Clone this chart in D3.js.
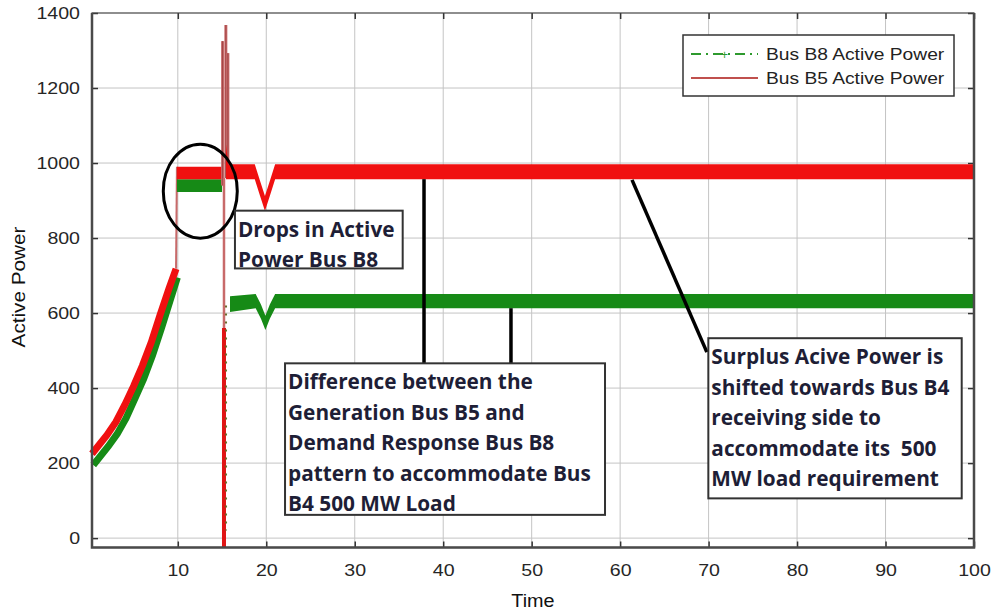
<!DOCTYPE html>
<html>
<head>
<meta charset="utf-8">
<script src="https://cdn.jsdelivr.net/npm/d3@7"></script>
<style>
  html, body { margin: 0; padding: 0; background: #fff; }
  svg { display: block; }
</style>
</head>
<body>
<div id="chart"></div>
<script>
// ramp (start-up) part, 0 .. 10 s
const rampT = [0.3, 2, 3, 4, 5, 6, 7, 8, 9, 9.8];
const b5Ramp = [225, 275, 310, 355, 405, 460, 522, 595, 665, 718];
const b8Ramp = [195, 245, 278, 320, 372, 425, 488, 560, 635, 695];

// plateau before the disturbance (band = lower / upper envelope)
const preT = [9.9, 15.0];
const b5PreLo = [957, 957];
const b5PreHi = [990, 990];
const b8PreLo = [923, 923];
const b8PreHi = [957, 957];

// after the disturbance, with the dip near t = 20
const b5PostT = [15.45, 15.7, 18.7, 19.3, 19.85, 20.4, 21.0, 100];
const b5PostLo = [957, 957, 957, 912, 872, 912, 957, 957];
const b5PostHi = [1050, 997, 997, 952, 912, 952, 997, 997];
const b8PostT = [15.9, 18.8, 19.4, 19.9, 20.4, 21.0, 100];
const b8PostLo = [603, 613, 585, 555, 585, 613, 613];
const b8PostHi = [645, 651, 623, 593, 623, 651, 651];

// transients around t = 15
const spikeT = [15.06, 15.43, 15.66];
const spikeTop = [1325, 1368, 1293];
const spikeBase = [940, 960, 960];
const dropT = 15.22;
const dropTop = 960;
const dropMid = 560;
const dropBottom = -25;
const b8DropT = 15.45;
const b8DropTop = 620;
const b8DropBottom = 20;

const xTicks = [10, 20, 30, 40, 50, 60, 70, 80, 90, 100];
const yTicks = [0, 200, 400, 600, 800, 1000, 1200, 1400];
const seriesNames = ['Bus B8 Active Power', 'Bus B5 Active Power'];

const W = 992, H = 613;
const margin = { top: 13, right: 18, bottom: 65.5, left: 92 };
const width = W - margin.left - margin.right;
const height = H - margin.top - margin.bottom;

const RED = '#f01010';
const GREEN = '#168a16';
const PINK = '#c86a6a';
const axisFont = '"Liberation Sans", Arial, sans-serif';

// the source image is a little stretched sideways
function stretch(sel, k) {
  sel.each(function () {
    const w = this.getComputedTextLength();
    d3.select(this).attr('textLength', w * k).attr('lengthAdjust', 'spacingAndGlyphs');
  });
}

const svg = d3.select('#chart').append('svg')
  .attr('width', W).attr('height', H)
  .attr('font-family', axisFont);

const g = svg.append('g').attr('transform', `translate(${margin.left},${margin.top})`);

const x = d3.scaleLinear().domain([0.3, 100]).range([0, width]);
const y = d3.scaleLinear().domain([-25, 1400]).range([height, 0]);

// grid
g.append('g').selectAll('line').data(xTicks.filter(d => d < 100)).join('line')
  .attr('x1', d => x(d)).attr('x2', d => x(d)).attr('y1', 0).attr('y2', height)
  .attr('stroke', '#c4c4c4').attr('stroke-width', 1);
g.append('g').selectAll('line').data(yTicks.filter(d => d < 1400)).join('line')
  .attr('y1', d => y(d)).attr('y2', d => y(d)).attr('x1', 0).attr('x2', width)
  .attr('stroke', '#c4c4c4').attr('stroke-width', 1);

// axes (ticks pointing inwards, MATLAB style)
const xAxis = g.append('g').attr('transform', `translate(0,${height})`)
  .call(d3.axisBottom(x).tickValues(xTicks).tickSize(-6).tickPadding(16).tickFormat(d3.format('d')));
const yAxis = g.append('g')
  .call(d3.axisLeft(y).tickValues(yTicks).tickSize(-6).tickPadding(12).tickFormat(d3.format('d')));
g.append('g').attr('transform', `translate(0,0)`)
  .call(d3.axisTop(x).tickValues(xTicks).tickSize(-6).tickFormat(''));
g.append('g').attr('transform', `translate(${width},0)`)
  .call(d3.axisRight(y).tickValues(yTicks).tickSize(-6).tickFormat(''));
g.selectAll('.domain').remove();
g.selectAll('.tick line').attr('stroke', '#333').attr('stroke-width', 1.5);
[xAxis, yAxis].forEach(a => {
  const t = a.selectAll('text')
    .attr('font-size', 17).attr('fill', '#262626')
    .attr('font-family', axisFont);
  stretch(t, 1.15);
});

// series
const line = d3.line().x(d => x(d[0])).y(d => y(d[1]));
const area = d3.area().x(d => x(d[0])).y0(d => y(d[1])).y1(d => y(d[2]));
const plot = g.append('g');

// ramps
plot.append('path').datum(rampT.map((t, i) => [t + 0.15, b8Ramp[i]]))
  .attr('d', line).attr('fill', 'none').attr('stroke', GREEN).attr('stroke-width', 7);
plot.append('path').datum(rampT.map((t, i) => [t, b5Ramp[i]]))
  .attr('d', line).attr('fill', 'none').attr('stroke', RED).attr('stroke-width', 7);
plot.append('path').datum([[rampT[rampT.length - 1], b5Ramp[b5Ramp.length - 1]], [preT[0], b5PreHi[0]]])
  .attr('d', line).attr('fill', 'none').attr('stroke', PINK).attr('stroke-width', 2);

// plateaus
plot.append('path').datum(preT.map((t, i) => [t, b8PreLo[i], b8PreHi[i]]))
  .attr('d', area).attr('fill', GREEN);
plot.append('path').datum(preT.map((t, i) => [t, b5PreLo[i], b5PreHi[i]]))
  .attr('d', area).attr('fill', RED);

// transients
spikeT.forEach((t, i) => {
  plot.append('path').datum([[t, spikeBase[i]], [t, spikeTop[i]]])
    .attr('d', line).attr('stroke', PINK).attr('stroke-width', 3).attr('fill', 'none');
  plot.append('path').datum([[t, spikeBase[i]], [t, spikeTop[i]]])
    .attr('d', line).attr('stroke', '#a04545').attr('stroke-width', 1).attr('fill', 'none');
});
plot.append('path').datum([[dropT, dropTop], [dropT, dropMid]])
  .attr('d', line).attr('stroke', PINK).attr('stroke-width', 2.5).attr('fill', 'none');
plot.append('path').datum([[dropT, dropMid], [dropT, dropBottom]])
  .attr('d', line).attr('stroke', '#e01515').attr('stroke-width', 4).attr('fill', 'none');
plot.append('path').datum([[b8DropT, b8DropTop], [b8DropT, b8DropBottom]])
  .attr('d', line).attr('stroke', '#6b6a2a').attr('stroke-width', 2)
  .attr('stroke-dasharray', '2,6').attr('fill', 'none');

// post-disturbance bands
plot.append('path').datum(b8PostT.map((t, i) => [t, b8PostLo[i], b8PostHi[i]]))
  .attr('d', area).attr('fill', GREEN);
plot.append('path').datum(b5PostT.map((t, i) => [t, b5PostLo[i], b5PostHi[i]]))
  .attr('d', area).attr('fill', RED);

// frame
g.append('rect').attr('x', 0).attr('y', 0).attr('width', width).attr('height', height)
  .attr('fill', 'none').attr('stroke', '#444').attr('stroke-width', 1.2);
g.append('path')
  .attr('d', `M0,0V${height}H${width}V0`)
  .attr('fill', 'none').attr('stroke', '#4a4a4a').attr('stroke-width', 2.5);

// axis titles
stretch(svg.append('text').attr('x', 533).attr('y', 607).attr('text-anchor', 'middle')
  .attr('font-size', 18).attr('fill', '#111').text('Time'), 1.1);
stretch(svg.append('text').attr('transform', 'translate(25,287) rotate(-90)')
  .attr('text-anchor', 'middle').attr('font-size', 18).attr('fill', '#111').text('Active Power'), 1.15);

// legend
const leg = svg.append('g').attr('transform', 'translate(683,35)');
leg.append('rect').attr('width', 271).attr('height', 61)
  .attr('fill', '#fff').attr('stroke', '#333').attr('stroke-width', 1.5);
leg.append('line').attr('x1', 8).attr('x2', 75).attr('y1', 19).attr('y2', 19)
  .attr('stroke', '#2e9a2e').attr('stroke-width', 2).attr('stroke-dasharray', '10,5,2,5');
leg.append('text').attr('x', 41.5).attr('y', 23.5).attr('text-anchor', 'middle')
  .attr('font-size', 12).attr('fill', '#2e9a2e').text('+');
leg.append('line').attr('x1', 8).attr('x2', 75).attr('y1', 43).attr('y2', 43)
  .attr('stroke', '#c0504d').attr('stroke-width', 2);
stretch(leg.selectAll('text.lbl').data(seriesNames).join('text').attr('class', 'lbl')
  .attr('x', 83).attr('y', (d, i) => 25 + i * 24)
  .attr('font-size', 16).attr('fill', '#222').text(d => d), 1.2);

// annotations
const annFont = '"Open Sans", Lato, sans-serif';
g.append('ellipse')
  .attr('cx', x(12.54)).attr('cy', y(925))
  .attr('rx', 37).attr('ry', 47)
  .attr('fill', 'none').attr('stroke', '#000').attr('stroke-width', 3);

const leaders = [
  [[37.83, 957], [37.83, 466]],
  [[47.66, 613], [47.66, 466]],
  [[61.34, 955], [69.8, 496]]
];
leaders.forEach(l => g.append('path').datum(l).attr('d', line)
  .attr('fill', 'none').attr('stroke', '#000').attr('stroke-width', 3.5));

const boxes = [
  { t0: 16.46, t1: 35.42, v0: 873, v1: 719,
    lines: ['Drops in Active', 'Power Bus B8'] },
  { t0: 22.12, t1: 58.29, v0: 466, v1: 62,
    lines: ['Difference between the', 'Generation Bus B5 and', 'Demand Response Bus B8',
            'pattern to accommodate Bus', 'B4 500 MW Load'] },
  { t0: 69.97, t1: 98.61, v0: 533, v1: 106,
    lines: ['Surplus Acive Power is', 'shifted towards Bus B4', 'receiving side to',
            'accommodate its  500', 'MW load requirement'] }
];
boxes.forEach(b => {
  const bx = x(b.t0), by = y(b.v0);
  g.append('rect').attr('x', bx).attr('y', by)
    .attr('width', x(b.t1) - bx).attr('height', y(b.v1) - by)
    .attr('fill', '#fff').attr('stroke', '#333').attr('stroke-width', 2);
  g.append('text').attr('font-family', annFont).attr('font-weight', 'bold')
    .attr('font-size', 20.8).attr('fill', '#1e1e36').attr('xml:space', 'preserve')
    .selectAll('tspan').data(b.lines).join('tspan')
    .attr('x', bx + 3).attr('y', (d, i) => by + 26 + i * 30.5)
    .text(d => d);
});
</script>
</body>
</html>
